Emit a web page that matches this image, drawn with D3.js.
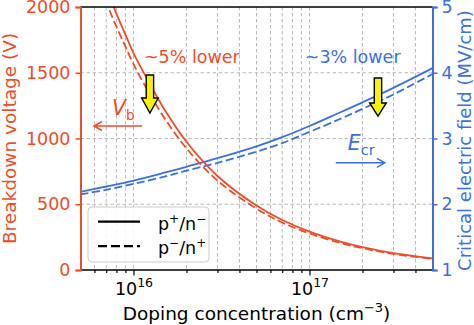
<!DOCTYPE html>
<html>
<head>
<meta charset="utf-8">
<script src="https://cdn.jsdelivr.net/npm/d3@7"></script>
<style>
  body { margin: 0; background: #fff; }
  text { font-family: "DejaVu Sans", sans-serif; }
</style>
</head>
<body>
<svg id="chart" width="474" height="325"></svg>
<script>
// ---- data ----
const dopingVb = [5e15, 6e15, 7e15, 8e15, 9e15, 1e16, 1.2e16, 1.5e16, 2e16, 3e16, 5e16, 7e16, 1e17, 1.5e17, 2e17, 3e17, 5e17];
const vbSolid  = [2780, 2420, 2150, 1950, 1790, 1650, 1450, 1220, 975, 715, 490, 380, 292, 216, 174, 128, 89];
const vbDashed = [2640, 2300, 2040, 1850, 1700, 1565, 1370, 1155, 925, 680, 466, 361, 278, 205, 166, 122, 85];

const dopingEcr = [5e15, 7e15, 1e16, 1.5e16, 2e16, 3e16, 5e16, 7e16, 1e17, 1.5e17, 2e17, 3e17, 5e17];
const ecrSolid  = [2.19, 2.27, 2.36, 2.48, 2.57, 2.70, 2.88, 3.02, 3.19, 3.40, 3.55, 3.77, 4.07];
const ecrDashed = [2.15, 2.22, 2.31, 2.42, 2.51, 2.63, 2.80, 2.93, 3.10, 3.30, 3.45, 3.67, 3.98];

const voltTicks  = [0, 500, 1000, 1500, 2000];
const fieldTicks = [1, 2, 3, 4, 5];
const majorDoping = [1e16, 1e17];

const red = "#ee4d2a", blue = "#3c6fe0";
const L = 80.5, R = 432.5, T = 7, B = 270;

const svg = d3.select("#chart");
const x  = d3.scaleLog().domain([5e15, 5e17]).range([L, R]);
const yL = d3.scaleLinear().domain([0, 2000]).range([B, T]);
const yR = d3.scaleLinear().domain([1, 5]).range([B, T]);

svg.append("defs").append("clipPath").attr("id", "plotclip")
  .append("rect").attr("x", L).attr("y", T).attr("width", R - L).attr("height", B - T);

// ---- grid ----
const allTicks = x.ticks().filter(d => x(d) > L + 1 && x(d) < R - 1);
const grid = svg.append("g").attr("stroke", "#b0b0b0").attr("stroke-width", 0.9).attr("stroke-dasharray", "3.5,2.5");
grid.selectAll("line.gx").data(allTicks).join("line").attr("class", "gx")
  .attr("x1", d => x(d)).attr("x2", d => x(d)).attr("y1", T).attr("y2", B);
grid.selectAll("line.gy").data([500, 1000, 1500]).join("line").attr("class", "gy")
  .attr("x1", L).attr("x2", R).attr("y1", d => yL(d)).attr("y2", d => yL(d));

// ---- curves ----
const plot = svg.append("g").attr("clip-path", "url(#plotclip)");
const smooth = d3.curveCatmullRom.alpha(0.5);
const lineVb  = d3.line().x((d, i) => x(dopingVb[i])).y(d => yL(d)).curve(smooth);
const lineEcr = d3.line().x((d, i) => x(dopingEcr[i])).y(d => yR(d)).curve(smooth);

plot.append("path").attr("d", lineEcr(ecrSolid)).attr("fill", "none").attr("stroke", blue).attr("stroke-width", 1.8);
plot.append("path").attr("d", lineEcr(ecrDashed)).attr("fill", "none").attr("stroke", blue).attr("stroke-width", 1.8).attr("stroke-dasharray", "8,3.5");
plot.append("path").attr("d", lineVb(vbSolid)).attr("fill", "none").attr("stroke", red).attr("stroke-width", 1.8);
plot.append("path").attr("d", lineVb(vbDashed)).attr("fill", "none").attr("stroke", red).attr("stroke-width", 1.8).attr("stroke-dasharray", "8,3.5");

// ---- legend ----
const leg = svg.append("g");
leg.append("rect").attr("x", 88).attr("y", 207).attr("width", 121).attr("height", 55).attr("rx", 4)
  .attr("fill", "#fff").attr("fill-opacity", 0.85).attr("stroke", "#cccccc").attr("stroke-width", 1);
const legendRows = [
  { dash: null, sup1: "+", sup2: "\u2212" },
  { dash: "9,4", sup1: "\u2212", sup2: "+" }
];
legendRows.forEach((r, i) => {
  const ly = 221.7 + i * 24.5;
  leg.append("line").attr("x1", 98).attr("x2", 140).attr("y1", ly).attr("y2", ly)
    .attr("stroke", "#000").attr("stroke-width", 2.2).attr("stroke-dasharray", r.dash);
  const t = leg.append("text").attr("x", 158).attr("y", ly + 7.8).attr("font-size", 17.5).attr("fill", "#000");
  t.append("tspan").text("p");
  t.append("tspan").attr("font-size", 12).attr("dy", -7).text(r.sup1);
  t.append("tspan").attr("dy", 7).text("/n");
  t.append("tspan").attr("font-size", 12).attr("dy", -7).text(r.sup2);
});

// ---- spines & axes ----
svg.append("line").attr("x1", L).attr("x2", R).attr("y1", T).attr("y2", T).attr("stroke", "#000").attr("stroke-width", 1.6);

const minorAx = svg.append("g").attr("transform", `translate(0,${B})`)
  .call(d3.axisBottom(x).tickValues(allTicks.filter(d => !majorDoping.includes(d))).tickSize(3).tickFormat(""));
const majorAx = svg.append("g").attr("transform", `translate(0,${B})`)
  .call(d3.axisBottom(x).tickValues(majorDoping).tickSize(5.5).tickFormat(""));
[minorAx, majorAx].forEach(g => {
  g.select(".domain").remove();
  g.selectAll("line").attr("stroke", "#000").attr("stroke-width", 1.2);
});
svg.append("line").attr("x1", L).attr("x2", R).attr("y1", B).attr("y2", B).attr("stroke", "#000").attr("stroke-width", 1.6);

majorAx.selectAll(".tick").each(function(d) {
  const t = d3.select(this).append("text").attr("x", 0).attr("y", 25).attr("dy", 0)
    .attr("fill", "#000").attr("font-size", 17.5).attr("text-anchor", "middle");
  t.append("tspan").text("10");
  t.append("tspan").attr("font-size", 12.5).attr("dy", -8).text(Math.round(Math.log10(d)));
});

const axL = svg.append("g").attr("transform", `translate(${L},0)`)
  .call(d3.axisLeft(yL).tickValues(voltTicks).tickSize(5).tickPadding(5).tickFormat(d3.format("d")));
axL.select(".domain").attr("stroke", red).attr("stroke-width", 2);
axL.selectAll(".tick line").attr("stroke", red).attr("stroke-width", 1.5);
axL.selectAll(".tick text").attr("fill", red).attr("font-size", 17.5).attr("font-family", "DejaVu Sans");

const axR = svg.append("g").attr("transform", `translate(${R},0)`)
  .call(d3.axisRight(yR).tickValues(fieldTicks).tickSize(5).tickPadding(4).tickFormat(d3.format("d")));
axR.select(".domain").attr("stroke", blue).attr("stroke-width", 2);
axR.selectAll(".tick line").attr("stroke", blue).attr("stroke-width", 1.5);
axR.selectAll(".tick text").attr("fill", blue).attr("font-size", 17.5).attr("font-family", "DejaVu Sans");

// ---- axis labels ----
const xl = svg.append("text").attr("x", (L + R) / 2).attr("y", 320).attr("text-anchor", "middle")
  .attr("font-size", 18.5).attr("fill", "#000");
xl.append("tspan").text("Doping concentration (cm");
xl.append("tspan").attr("font-size", 13).attr("dy", -8).text("\u22123");
xl.append("tspan").attr("dy", 8).text(")");

svg.append("text").attr("transform", `translate(15.5,${(T + B) / 2}) rotate(-90)`)
  .attr("text-anchor", "middle").attr("font-size", 18.5).attr("fill", red).text("Breakdown voltage (V)");
svg.append("text").attr("transform", `translate(470.5,${(T + B) / 2 + 2}) rotate(-90)`)
  .attr("text-anchor", "middle").attr("font-size", 18).attr("fill", blue).text("Critical electric field (MV/cm)");

// ---- annotations ----
svg.append("text").attr("x", x(1.146e16)).attr("y", yL(1574)).attr("font-size", 17.5).attr("fill", red).text("~5% lower");
svg.append("text").attr("x", x(9.4e16)).attr("y", yR(4.15)).attr("font-size", 17.5).attr("fill", blue).text("~3% lower");

function yellowArrow(cx, y0, yh, yt) {
  const sw = 3.7, hw = 8.3;
  const pts = [[cx - sw, y0], [cx + sw, y0], [cx + sw, yh], [cx + hw, yh], [cx, yt], [cx - hw, yh], [cx - sw, yh]];
  svg.append("path").attr("d", "M" + pts.map(p => p.join(",")).join("L") + "Z")
    .attr("fill", "#f8f400").attr("stroke", "#000").attr("stroke-width", 1.4).attr("stroke-linejoin", "miter");
}
yellowArrow(x(1.24e16), yL(1483), yL(1308), yL(1194));
yellowArrow(x(2.45e17), yR(3.92), yR(3.54), yR(3.34));

function thinArrow(x1, x2, y, color) {
  const dir = Math.sign(x2 - x1);
  svg.append("path")
    .attr("d", `M${x1},${y}L${x2},${y}M${x2 - dir * 8},${y - 4.5}L${x2},${y}L${x2 - dir * 8},${y + 4.5}`)
    .attr("fill", "none").attr("stroke", color).attr("stroke-width", 1.5);
}
thinArrow(x(1.12e16), x(5.96e15), yL(1095), red);
thinArrow(x(1.41e17), x(2.68e17), yR(2.63), blue);

const vb = svg.append("text").attr("x", x(7.54e15)).attr("y", yL(1179)).attr("fill", red).attr("font-size", 20.5);
vb.append("tspan").attr("font-style", "italic").text("V");
vb.append("tspan").attr("font-size", 13.5).attr("dy", 5).text("b");

const ec = svg.append("text").attr("x", x(1.65e17)).attr("y", yR(2.825)).attr("fill", blue).attr("font-size", 20.5);
ec.append("tspan").attr("font-style", "italic").text("E");
ec.append("tspan").attr("font-size", 14.5).attr("dy", 5).text("cr");
</script>
</body>
</html>
